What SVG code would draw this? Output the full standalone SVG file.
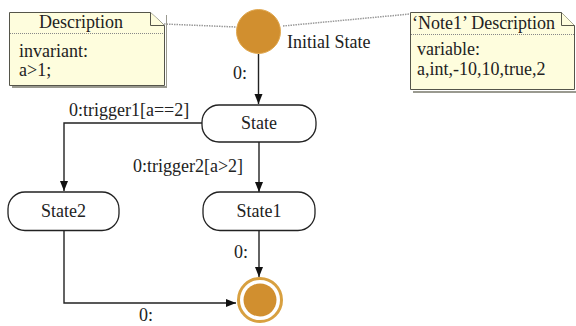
<svg xmlns="http://www.w3.org/2000/svg" width="576" height="326" viewBox="0 0 576 326">
<defs>
<marker id="arr" viewBox="0 0 10 10" refX="10" refY="5" markerWidth="10" markerHeight="10" markerUnits="userSpaceOnUse" orient="auto">
<path d="M0,1 L10,5 L0,9 Z" fill="#111"/>
</marker>
<style>
text{font-family:"Liberation Serif","Times New Roman",serif;font-size:18px;fill:#222}
.note{fill:#FEFDDD;stroke:#55554a;stroke-width:1}
.shadow{fill:#9a9a90}
.sep{stroke:#888;stroke-width:1;stroke-dasharray:1,1}
.dot{fill:none;stroke:#999;stroke-width:1.5;stroke-dasharray:1.5,1}
.st{fill:#fff;stroke:#222;stroke-width:1.3}
.edge{fill:none;stroke:#222;stroke-width:1.4;marker-end:url(#arr)}
.mid{text-anchor:middle}
</style>
</defs>
<g id="connectors">
<path class="dot" d="M164,24 L236,27"/>
<path class="dot" d="M283,26 L410,14"/>
<path class="edge" d="M258.5,54 V104"/>
<path class="edge" d="M202,123 H64 V191"/>
<path class="edge" d="M259,142 V192"/>
<path class="edge" d="M259,231 V277"/>
<path class="edge" d="M64,231 V303 H236"/>
<text x="233" y="79">0:</text>
<text x="69" y="116">0:trigger1[a==2]</text>
<text x="133" y="172">0:trigger2[a&gt;2]</text>
<text x="234" y="258">0:</text>
<text x="139" y="321">0:</text>
</g>
<g id="note-description">
<path class="shadow" d="M166,15 H167 V88 H12 V86 H166 Z"/>
<path class="note" d="M9.5,12.5 H150.5 L164.5,25.5 V85.5 H9.5 Z"/>
<path class="note" d="M150.5,12.5 V25.5 H164.5"/>
<line class="sep" x1="10" y1="33.5" x2="164" y2="33.5"/>
<text class="mid" x="81" y="28">Description</text>
<text x="19" y="57">invariant:</text>
<text x="19" y="76">a&gt;1;</text>
</g>
<g id="note-note1">
<path class="shadow" d="M576,15 V93 H413 V91 H576 Z"/>
<path class="note" d="M410.5,12.5 H561.5 L574.5,25.5 V89.5 H410.5 Z"/>
<path class="note" d="M561.5,12.5 V25.5 H574.5"/>
<line class="sep" x1="411" y1="34.5" x2="574" y2="34.5"/>
<text x="412" y="29">‘Note1’ Description</text>
<text x="417" y="55">variable:</text>
<text x="417" y="75">a,int,-10,10,true,2</text>
</g>
<g id="initial">
<circle cx="258.5" cy="31.5" r="22" fill="#D18F2F" stroke="#e0a850" stroke-width="1"/>
<text x="287" y="48">Initial State</text>
</g>
<g id="state">
<rect class="st" x="202" y="105" width="114" height="37" rx="17" ry="17"/>
<text class="mid" x="259" y="129">State</text>
</g>
<g id="state2">
<rect class="st" x="8" y="192" width="111" height="38.5" rx="17" ry="17"/>
<text class="mid" x="63.5" y="217">State2</text>
</g>
<g id="state1">
<rect class="st" x="203" y="192" width="112" height="38.5" rx="17" ry="17"/>
<text class="mid" x="259" y="217">State1</text>
</g>
<g id="final">
<circle cx="260" cy="300" r="21.5" fill="#fff" stroke="#D8A040" stroke-width="3"/>
<circle cx="260" cy="300" r="16.5" fill="#D18F2F"/>
</g>
</svg>
